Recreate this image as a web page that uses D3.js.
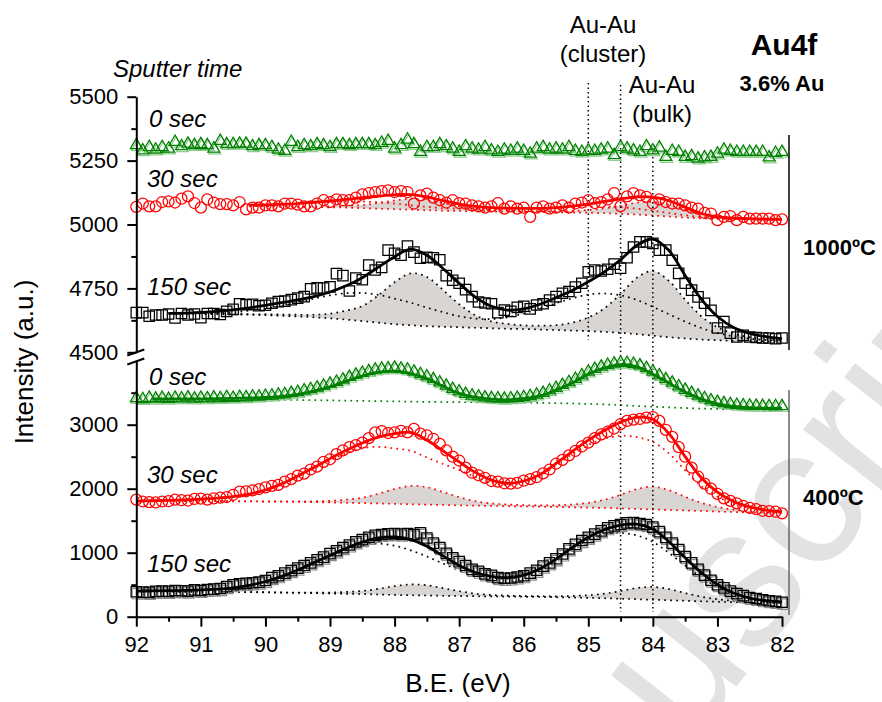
<!DOCTYPE html>
<html>
<head>
<meta charset="utf-8">
<script src="https://cdn.jsdelivr.net/npm/d3@7"></script>
<style>
  body { margin: 0; background: #fff; }
  svg { display: block; font-family: "Liberation Sans", Arial, sans-serif; }
</style>
</head>
<body>
<svg id="chart" width="882" height="702"></svg>
<script>
// ---- Au4f XPS spectra, 3.6% Au, annealed at 1000 °C and 400 °C ----

// Measured points: binding energy runs from scanStart down in steps of scanStep
const scanStart = 92;
const scanStep = 0.1;

// Energy grid of the fitted envelopes and components
const fitGrid = [92, 91.75, 91.5, 91.25, 91, 90.75, 90.5, 90.25, 90, 89.75, 89.5, 89.25, 89, 88.75, 88.5, 88.25, 88, 87.75, 87.5, 87.25, 87, 86.75, 86.5, 86.25, 86, 85.75, 85.5, 85.25, 85, 84.75, 84.5, 84.25, 84, 83.75, 83.5, 83.25, 83, 82.75, 82.5, 82.25, 82];

// Axis ticks
const xTicks = [92, 91, 90, 89, 88, 87, 86, 85, 84, 83, 82];
const xMinorTicks = [91.5, 90.5, 89.5, 88.5, 87.5, 86.5, 85.5, 84.5, 83.5, 82.5];
const upperTicks = [4500, 4750, 5000, 5250, 5500];
const upperMinorTicks = [4625, 4875, 5125, 5375];
const lowerTicks = [0, 1000, 2000, 3000];
const lowerMinorTicks = [500, 1500, 2500, 3500];

// Reference binding energies (dotted guides)
const guideEnergies = [85.0, 84.5, 84.0];

// ---- 1000 °C, 0 s ----
const hot0Counts = [
  5310, 5290, 5303, 5293, 5303, 5297, 5323, 5306, 5316, 5310,
  5314, 5310, 5297, 5327, 5314, 5314, 5316, 5316, 5306, 5310,
  5310, 5303, 5293, 5288, 5323, 5303, 5310, 5306, 5314, 5310,
  5303, 5314, 5314, 5310, 5314, 5314, 5314, 5310, 5319, 5327,
  5297, 5310, 5332, 5314, 5284, 5303, 5303, 5314, 5306, 5297,
  5284, 5306, 5297, 5293, 5303, 5290, 5284, 5293, 5288, 5297,
  5288, 5277, 5297, 5303, 5293, 5297, 5293, 5303, 5288, 5284,
  5290, 5288, 5293, 5297, 5271, 5303, 5297, 5290, 5284, 5306,
  5290, 5301, 5264, 5288, 5284, 5264, 5267, 5258, 5262, 5264,
  5277, 5293, 5288, 5284, 5284, 5284, 5284, 5284, 5262, 5280,
  5284];

// ---- 1000 °C, 30 s ----
const hot30Counts = [
  5069, 5082, 5071, 5071, 5088, 5090, 5086, 5101, 5110, 5084,
  5066, 5098, 5086, 5080, 5080, 5075, 5088, 5059, 5066, 5066,
  5075, 5075, 5071, 5082, 5082, 5078, 5071, 5071, 5082, 5095,
  5088, 5098, 5095, 5095, 5105, 5118, 5123, 5127, 5131, 5134,
  5127, 5131, 5127, 5082, 5114, 5121, 5105, 5095, 5086, 5095,
  5084, 5082, 5075, 5071, 5066, 5071, 5084, 5062, 5071, 5062,
  5066, 5030, 5066, 5071, 5062, 5066, 5075, 5066, 5082, 5086,
  5095, 5084, 5088, 5098, 5123, 5072, 5110, 5123, 5114, 5108,
  5082, 5098, 5088, 5082, 5082, 5075, 5066, 5062, 5045, 5043,
  5017, 5030, 5033, 5017, 5030, 5023, 5023, 5023, 5023, 5017,
  5020];
const hot30Fit = [null, null, null, null, null, null, null,
  5076, 5077, 5079, 5082, 5087, 5092, 5098, 5105, 5111, 5116, 5117, 5108, 5093, 5080, 5071, 5066, 5064, 5063, 5063, 5066, 5072, 5080, 5090, 5100, 5108, 5107, 5093, 5068, 5043, 5030, 5025, 5023, 5021, 5020];
const hot30Background = [null, null, null, null, null, null, null,
  5072, 5071, 5070, 5069, 5068, 5067, 5066, 5064, 5062, 5060, 5058, 5056, 5054, 5053, 5052, 5051, 5050, 5050, 5049, 5048, 5047, 5046, 5044, 5042, 5039, 5035, 5031, 5027, 5024, 5022, 5021, 5020, 5019, 5019];
const hot30Bulk = [null, null, null, null, null, null, null,
  5072, 5072, 5071, 5070, 5070, 5071, 5073, 5076, 5084, 5094, 5101, 5096, 5084, 5072, 5062, 5057, 5054, 5053, 5052, 5052, 5053, 5057, 5063, 5074, 5085, 5088, 5077, 5059, 5043, 5033, 5027, 5023, 5021, 5020];
const hot30Cluster = [null, null, null, null, null, null, null,
  5076, 5077, 5079, 5082, 5085, 5088, 5090, 5090, 5087, 5082, 5075, 5069, 5064, 5062, 5061, 5061, 5061, 5063, 5064, 5066, 5068, 5070, 5070, 5068, 5062, 5054, 5045, 5036, 5029, 5025, 5023, 5021, 5019, 5019];

// ---- 1000 °C, 150 s ----
const hot150Counts = [
  4655, 4655, 4641, 4646, 4646, 4650, 4634, 4652, 4646, 4650,
  4635, 4652, 4652, 4648, 4660, 4668, 4690, 4686, 4688, 4682,
  4684, 4692, 4698, 4700, 4706, 4712, 4718, 4748, 4752, 4751,
  4756, 4808, 4800, 4740, 4790, 4784, 4841, 4822, 4832, 4900,
  4887, 4880, 4916, 4892, 4868, 4872, 4870, 4862, 4800, 4782,
  4770, 4745, 4718, 4697, 4693, 4690, 4655, 4665, 4660, 4676,
  4680, 4670, 4685, 4690, 4704, 4718, 4731, 4738, 4755, 4770,
  4815, 4822, 4818, 4825, 4845, 4829, 4870, 4912, 4932, 4932,
  4926, 4900, 4900, 4860, 4809, 4770, 4743, 4717, 4692, 4664,
  4595, 4620, 4575, 4560, 4566, 4560, 4558, 4556, 4556, 4553,
  4556];
const hot150Fit = [null, null,
  4652, 4653, 4656, 4660, 4666, 4674, 4684, 4694, 4705, 4718, 4736, 4760, 4792, 4833, 4874, 4904, 4880, 4828, 4770, 4716, 4680, 4665, 4670, 4688, 4714, 4742, 4776, 4815, 4862, 4918, 4943, 4898, 4800, 4708, 4640, 4597, 4574, 4561, 4553];
const hot150Background = [null, null,
  4651, 4651, 4650, 4649, 4648, 4647, 4645, 4643, 4640, 4637, 4633, 4628, 4622, 4616, 4610, 4606, 4602, 4600, 4598, 4596, 4594, 4592, 4591, 4589, 4587, 4585, 4583, 4580, 4576, 4571, 4565, 4559, 4554, 4550, 4547, 4545, 4544, 4543, 4542];
const hot150Bulk = [null, null,
  4653, 4653, 4653, 4652, 4652, 4649, 4649, 4648, 4647, 4647, 4651, 4663, 4681, 4723, 4774, 4809, 4795, 4744, 4688, 4645, 4621, 4611, 4605, 4604, 4606, 4616, 4636, 4672, 4728, 4791, 4818, 4779, 4706, 4641, 4598, 4573, 4559, 4552, 4547];
const hot150Cluster = [null, null,
  4652, 4652, 4653, 4654, 4657, 4663, 4670, 4682, 4695, 4710, 4723, 4731, 4732, 4725, 4710, 4694, 4675, 4657, 4641, 4632, 4630, 4637, 4652, 4671, 4692, 4711, 4726, 4730, 4723, 4705, 4678, 4649, 4620, 4595, 4576, 4562, 4553, 4548, 4544];

// ---- 400 °C, 0 s ----
const warm0Counts = [
  3415, 3400, 3420, 3405, 3418, 3402, 3420, 3410, 3425, 3408,
  3420, 3412, 3425, 3415, 3430, 3418, 3432, 3428, 3440, 3438,
  3450, 3455, 3470, 3478, 3495, 3510, 3535, 3555, 3580, 3610,
  3640, 3670, 3705, 3745, 3780, 3810, 3835, 3860, 3875, 3880,
  3890, 3875, 3860, 3830, 3790, 3755, 3710, 3660, 3610, 3560,
  3520, 3480, 3455, 3440, 3425, 3415, 3410, 3405, 3410, 3418,
  3430, 3445, 3470, 3495, 3535, 3575, 3620, 3665, 3715, 3770,
  3830, 3870, 3905, 3935, 3955, 3970, 3965, 3950, 3925, 3885,
  3830, 3770, 3710, 3655, 3600, 3545, 3495, 3455, 3415, 3380,
  3355, 3335, 3320, 3310, 3302, 3298, 3295, 3292, 3290, 3290,
  3288];
const warm0Fit = [null,
  3402, 3402, 3403, 3405, 3408, 3412, 3418, 3425, 3443, 3475, 3525, 3590, 3680, 3760, 3820, 3838, 3800, 3720, 3600, 3490, 3430, 3400, 3388, 3410, 3450, 3540, 3650, 3790, 3890, 3940, 3905, 3790, 3650, 3510, 3400, 3325, 3285, 3266, 3259, 3256];
const warm0Background = [null,
  3400, 3399, 3398, 3397, 3396, 3395, 3393, 3391, 3389, 3386, 3383, 3380, 3376, 3372, 3368, 3364, 3360, 3357, 3354, 3352, 3350, 3348, 3346, 3344, 3341, 3337, 3332, 3325, 3316, 3305, 3293, 3281, 3270, 3260, 3252, 3246, 3243, 3241, 3240, 3240];

// ---- 400 °C, 30 s ----
const warm30Counts = [
  1830, 1800, 1790, 1785, 1800, 1805, 1830, 1820, 1815, 1840,
  1845, 1830, 1850, 1860, 1870, 1905, 1955, 1960, 1975, 1995,
  2020, 2045, 2060, 2110, 2150, 2205, 2235, 2300, 2345, 2420,
  2460, 2540, 2600, 2650, 2680, 2720, 2790, 2880, 2900, 2870,
  2880, 2905, 2880, 2935, 2860, 2835, 2780, 2700, 2600, 2500,
  2440, 2330, 2250, 2210, 2170, 2120, 2110, 2085, 2080, 2090,
  2125, 2150, 2180, 2240, 2300, 2390, 2450, 2520, 2590, 2660,
  2720, 2790, 2850, 2890, 2940, 3010, 3060, 3080, 3090, 3110,
  3120, 3060, 2920, 2810, 2650, 2500, 2330, 2190, 2080, 2000,
  1920, 1850, 1810, 1770, 1730, 1700, 1680, 1655, 1650, 1640,
  1615];
const warm30Fit = [
  1808, 1812, 1818, 1826, 1838, 1853, 1876, 1916, 1980, 2075, 2200, 2330, 2470, 2600, 2715, 2805, 2860, 2880, 2760, 2590, 2420, 2255, 2135, 2085, 2120, 2220, 2395, 2580, 2760, 2910, 3040, 3115, 3085, 2860, 2500, 2170, 1945, 1800, 1715, 1665, 1640];
const warm30Background = [
  1808, 1808, 1807, 1806, 1805, 1804, 1803, 1801, 1799, 1796, 1793, 1789, 1785, 1780, 1775, 1769, 1763, 1757, 1751, 1745, 1740, 1735, 1731, 1727, 1723, 1719, 1715, 1710, 1705, 1699, 1692, 1684, 1676, 1668, 1660, 1652, 1643, 1635, 1628, 1623, 1620];
const warm30Bulk = [
  1808, 1808, 1807, 1806, 1805, 1805, 1804, 1804, 1803, 1802, 1802, 1804, 1811, 1829, 1859, 1920, 1995, 2044, 2024, 1948, 1868, 1805, 1769, 1754, 1743, 1740, 1742, 1753, 1779, 1827, 1905, 1993, 2031, 1977, 1873, 1780, 1714, 1674, 1649, 1635, 1627];
const warm30Cluster = [
  1808, 1812, 1818, 1826, 1838, 1852, 1875, 1913, 1976, 2069, 2191, 2315, 2444, 2551, 2631, 2654, 2628, 2593, 2487, 2387, 2292, 2185, 2097, 2058, 2100, 2199, 2368, 2537, 2686, 2782, 2827, 2806, 2730, 2551, 2287, 2042, 1877, 1763, 1694, 1653, 1633];

// ---- 400 °C, 150 s ----
const warm150Counts = [
  390, 385, 380, 395, 400, 395, 410, 405, 400, 420,
  410, 425, 430, 440, 470, 500, 515, 520, 530, 540,
  565, 610, 640, 680, 720, 760, 800, 840, 890, 930,
  985, 1030, 1080, 1120, 1170, 1205, 1240, 1270, 1285, 1295,
  1300, 1290, 1300, 1285, 1310, 1230, 1150, 1080, 990, 920,
  860, 800, 740, 710, 670, 645, 610, 600, 605, 620,
  640, 680, 725, 790, 840, 905, 980, 1060, 1130, 1190,
  1240, 1290, 1340, 1390, 1420, 1440, 1465, 1470, 1455, 1440,
  1400, 1330, 1240, 1150, 1050, 940, 840, 740, 650, 570,
  500, 450, 400, 360, 330, 300, 285, 265, 250, 240,
  225];
const warm150Fit = [
  400, 403, 406, 411, 418, 430, 452, 490, 550, 630, 730, 845, 960, 1070, 1165, 1230, 1245, 1205, 1100, 950, 800, 690, 630, 612, 650, 750, 900, 1080, 1240, 1360, 1430, 1445, 1370, 1170, 920, 690, 500, 370, 290, 250, 232];
const warm150Background = [
  395, 394, 393, 392, 390, 388, 386, 383, 380, 376, 372, 368, 363, 358, 353, 347, 341, 336, 331, 327, 323, 320, 317, 314, 311, 308, 304, 299, 294, 288, 281, 273, 265, 257, 249, 241, 233, 227, 222, 218, 215];
const warm150Bulk = [
  395, 394, 393, 392, 390, 389, 387, 385, 383, 379, 377, 377, 378, 387, 402, 435, 477, 504, 491, 446, 398, 361, 339, 330, 323, 320, 319, 324, 336, 360, 401, 447, 465, 431, 369, 313, 273, 249, 234, 225, 219];
const warm150Cluster = [
  400, 403, 406, 411, 418, 429, 451, 488, 547, 627, 725, 836, 945, 1041, 1116, 1142, 1109, 1037, 940, 831, 725, 649, 608, 596, 638, 738, 885, 1055, 1198, 1288, 1310, 1271, 1170, 996, 800, 618, 460, 348, 278, 243, 228];

// ---- spectra and their styles ----
const GREEN = "#008000", RED = "#ff0000", BLACK = "#000000";
const spectra = [
  { panel: "upper", counts: hot0Counts, color: GREEN, symbol: "triangle", shadow: "#8ccc8c" },
  { panel: "upper", counts: hot30Counts, fit: hot30Fit, background: hot30Background, bulk: hot30Bulk, cluster: hot30Cluster, color: RED, symbol: "circle" },
  { panel: "upper", counts: hot150Counts, fit: hot150Fit, background: hot150Background, bulk: hot150Bulk, cluster: hot150Cluster, color: BLACK, symbol: "square" },
  { panel: "lower", counts: warm0Counts, fit: warm0Fit, background: warm0Background, color: GREEN, symbol: "triangle", shadow: "#8ccc8c" },
  { panel: "lower", counts: warm30Counts, fit: warm30Fit, background: warm30Background, bulk: warm30Bulk, cluster: warm30Cluster, color: RED, symbol: "circle" },
  { panel: "lower", counts: warm150Counts, fit: warm150Fit, background: warm150Background, bulk: warm150Bulk, cluster: warm150Cluster, color: BLACK, symbol: "square", shadow: "#8a8a8a" }
];

// ---- scales ----
const svg = d3.select("#chart");
const x = d3.scaleLinear().domain([92, 82]).range([136.3, 782]);
const yUpper = d3.scaleLinear().domain([4500, 5500]).range([352.3, 96.7]);
const yLower = d3.scaleLinear().domain([0, 4000]).range([616.7, 360.7]);
const yOf = s => (s.panel === "upper" ? yUpper : yLower);

// ---- faint watermark ----
svg.append("text")
  .attr("transform", "translate(447,1057) rotate(-52)")
  .attr("font-size", 200)
  .attr("fill", "#e2e2e2")
  .text("Manuscript");

const layerFill = svg.append("g");
const layerDots = svg.append("g");
const layerGuides = svg.append("g");
const layerMarks = svg.append("g");
const layerFits = svg.append("g");

const gridPoints = arr => fitGrid.map((e, i) => ({ e, v: arr[i] }));
const curveLine = y => d3.line()
  .defined(d => d.v != null)
  .x(d => x(d.e)).y(d => y(d.v))
  .curve(d3.curveCatmullRom.alpha(0.5));

const symbolTypes = { triangle: d3.symbolTriangle, circle: d3.symbolCircle, square: d3.symbolSquare };
const symbolSizes = { triangle: 62, circle: 95, square: 108 };

spectra.forEach(s => {
  const y = yOf(s);
  const line = curveLine(y);

  // shaded bulk component, on top of the background
  if (s.bulk) {
    const band = fitGrid.map((e, i) => ({ e, lo: s.background[i], hi: s.bulk[i] }));
    layerFill.append("path")
      .attr("d", d3.area()
        .defined(d => d.lo != null && d.hi != null)
        .x(d => x(d.e)).y0(d => y(d.lo)).y1(d => y(d.hi))
        .curve(d3.curveCatmullRom.alpha(0.5))(band))
      .attr("fill", "#d8d5d3");
  }

  // dotted background and components
  [s.background, s.bulk, s.cluster].forEach(arr => {
    if (!arr) return;
    layerDots.append("path")
      .attr("d", line(gridPoints(arr)))
      .attr("fill", "none")
      .attr("stroke", s.color)
      .attr("stroke-width", 1.7)
      .attr("stroke-dasharray", "1.7 4.3");
  });

  // measured counts
  const pts = s.counts.map((v, i) => ({ e: scanStart - i * scanStep, v }));
  const sym = d3.symbol().type(symbolTypes[s.symbol]).size(symbolSizes[s.symbol]);
  if (s.shadow) {
    layerMarks.append("g").selectAll("path").data(pts).join("path")
      .attr("transform", d => `translate(${x(d.e) + 1},${y(d.v) + 1.8})`)
      .attr("d", sym)
      .attr("fill", "none").attr("stroke", s.shadow).attr("stroke-width", 1.2);
  }
  layerMarks.append("g").selectAll("path").data(pts).join("path")
    .attr("transform", d => `translate(${x(d.e)},${y(d.v)})`)
    .attr("d", sym)
    .attr("fill", "none").attr("stroke", s.color).attr("stroke-width", 1.25);

  // fitted envelope
  if (s.fit) {
    layerFits.append("path")
      .attr("d", line(gridPoints(s.fit)))
      .attr("fill", "none")
      .attr("stroke", s.color)
      .attr("stroke-width", 2.8)
      .attr("stroke-linejoin", "round");
  }
});

// ---- dotted reference lines ----
const guideSpans = [[83, 340], [85, 612], [148, 612]];
guideEnergies.forEach((e, i) => {
  layerGuides.append("line")
    .attr("x1", x(e)).attr("x2", x(e))
    .attr("y1", guideSpans[i][0]).attr("y2", guideSpans[i][1])
    .attr("stroke", "#000").attr("stroke-width", 1.5)
    .attr("stroke-dasharray", "1.5 3");
});

// ---- axes ----
const axes = svg.append("g");
const intFormat = d3.format("d");
const styleAxis = g => {
  g.selectAll(".domain").attr("stroke", "#000").attr("stroke-width", 2);
  g.selectAll(".tick line").attr("stroke", "#000").attr("stroke-width", 2);
  g.selectAll(".tick text").attr("font-size", 22).attr("fill", "#000")
    .attr("font-family", "'Liberation Sans', Arial, sans-serif");
};
const x0 = x(92);
axes.append("g").attr("transform", `translate(${x0},0)`)
  .call(d3.axisLeft(yUpper).tickValues(upperTicks).tickFormat(intFormat).tickSize(9).tickSizeOuter(0).tickPadding(9))
  .call(styleAxis);
axes.append("g").attr("transform", `translate(${x0},0)`)
  .call(d3.axisLeft(yUpper).tickValues(upperMinorTicks).tickSize(5).tickFormat(""))
  .call(styleAxis).call(g => g.select(".domain").remove());
axes.append("g").attr("transform", `translate(${x0},0)`)
  .call(d3.axisLeft(yLower).tickValues(lowerTicks).tickFormat(intFormat).tickSize(9).tickSizeOuter(0).tickPadding(9))
  .call(styleAxis);
axes.append("g").attr("transform", `translate(${x0},0)`)
  .call(d3.axisLeft(yLower).tickValues(lowerMinorTicks).tickSize(5).tickFormat(""))
  .call(styleAxis).call(g => g.select(".domain").remove());
axes.append("g").attr("transform", `translate(0,${yLower(0)})`)
  .call(d3.axisBottom(x).tickValues(xTicks).tickFormat(intFormat).tickSize(10).tickSizeOuter(0).tickPadding(10))
  .call(styleAxis);
axes.append("g").attr("transform", `translate(0,${yLower(0)})`)
  .call(d3.axisBottom(x).tickValues(xMinorTicks).tickSize(5).tickFormat(""))
  .call(styleAxis).call(g => g.select(".domain").remove());

// axis break marks
[[355.5, 349.5], [364.5, 358.5]].forEach(([ya, yb]) => {
  axes.append("line")
    .attr("x1", x0 - 9).attr("y1", ya).attr("x2", x0 + 8).attr("y2", yb)
    .attr("stroke", "#000").attr("stroke-width", 2);
});

// ---- axis titles ----
svg.append("text")
  .attr("transform", "translate(33,362) rotate(-90)")
  .attr("text-anchor", "middle").attr("font-size", 26)
  .text("Intensity (a.u.)");
svg.append("text")
  .attr("x", 458).attr("y", 692)
  .attr("text-anchor", "middle").attr("font-size", 26)
  .text("B.E. (eV)");

// ---- annotations ----
const italic = (tx, ty, str) => svg.append("text")
  .attr("x", tx).attr("y", ty).attr("font-size", 24).attr("font-style", "italic").text(str);
italic(113, 77, "Sputter time");
italic(149, 127, "0 sec");
italic(147, 187, "30 sec");
italic(147, 295, "150 sec");
italic(149, 385, "0 sec");
italic(147, 483, "30 sec");
italic(147, 572, "150 sec");

const plain = (tx, ty, str) => svg.append("text")
  .attr("x", tx).attr("y", ty).attr("font-size", 24).attr("text-anchor", "middle").text(str);
plain(603, 33, "Au-Au");
plain(603, 62, "(cluster)");
plain(662, 93, "Au-Au");
plain(662, 122, "(bulk)");

svg.append("text").attr("x", 784).attr("y", 55).attr("text-anchor", "middle")
  .attr("font-size", 30).attr("font-weight", "bold").text("Au4f");
svg.append("text").attr("x", 782).attr("y", 91).attr("text-anchor", "middle")
  .attr("font-size", 22).attr("font-weight", "bold").text("3.6% Au");

// temperature groups
svg.append("line").attr("x1", 789).attr("x2", 789).attr("y1", 135).attr("y2", 350)
  .attr("stroke", "#000").attr("stroke-width", 1.5);
svg.append("line").attr("x1", 789).attr("x2", 789).attr("y1", 390).attr("y2", 615)
  .attr("stroke", "#666").attr("stroke-width", 1.5);
svg.append("text").attr("x", 803).attr("y", 255)
  .attr("font-size", 22).attr("font-weight", "bold").text("1000\u00BAC");
svg.append("text").attr("x", 803).attr("y", 505)
  .attr("font-size", 22).attr("font-weight", "bold").text("400\u00BAC");
</script>
</body>
</html>
